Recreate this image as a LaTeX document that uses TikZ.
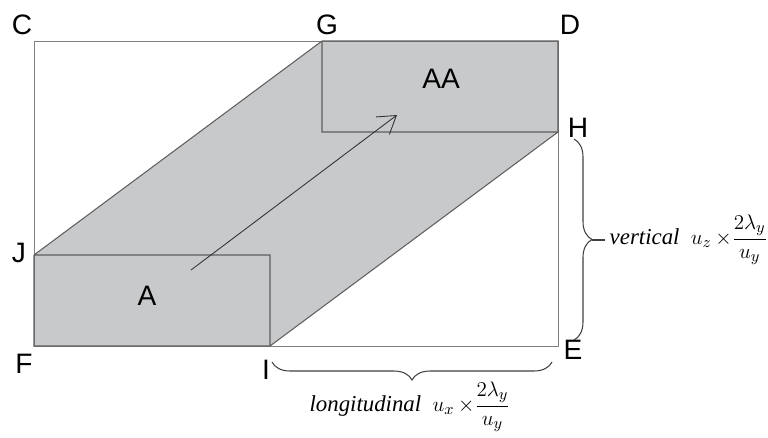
\documentclass[tikz,border=0pt]{standalone}
\usepackage{amsmath,amssymb}
\usepackage{fontspec}
\setmainfont{Liberation Serif}
\newfontfamily\labfont{Liberation Sans}
\usepackage{xcolor}
\usetikzlibrary{arrows.meta,decorations.pathreplacing}
\definecolor{boxgray}{HTML}{C8C9CB}
\definecolor{edgegray}{HTML}{5F5F5F}
\definecolor{framegray}{HTML}{808080}
\tikzset{corner/.style={font=\labfont\fontsize{16}{18}\selectfont,inner sep=0pt},
  formula/.style={font=\itshape\fontsize{13}{15}\selectfont,inner sep=2.5pt},
  bracemark/.style={decorate,decoration={brace,amplitude=0.36cm},line width=0.6pt,draw=black!75}}

\begin{document}
\begin{tikzpicture}[x=0.02cm,y=-0.02cm]
  \useasboundingbox (0,0) rectangle (768,437);
  \coordinate (c) at (34,41); \coordinate (g) at (322,41); \coordinate (d) at (558,41); \coordinate (h) at (558,132);
  \coordinate (e) at (558,346); \coordinate (i) at (270,346); \coordinate (f) at (34,346); \coordinate (j) at (34,255);
  \coordinate (atop) at (270,255); \coordinate (aabot) at (322,132);
  \fill[boxgray] (j) -- (g) -- (d) -- (h) -- (i) -- (f) -- cycle;
  \draw[framegray,line width=0.5pt] (c) rectangle (e);
  \draw[edgegray,line width=0.6pt] (j) -- (g) (i) -- (h) (j) -- (atop) -- (i) -- (f) -- (j) (g) -- (aabot) -- (h) -- (d) -- (g);
  \coordinate (flowstart) at (191,270); \coordinate (flowend) at (397,115);
  \draw[-{Straight Barb[length=3.4mm,width=4.4mm]},black!80,line width=0.5pt] (flowstart) -- (flowend);
  \node[corner] (lc) at (22,25) {C}; \node[corner] (lg) at (327,25) {G}; \node[corner] (ld) at (570,25) {D};
  \node[corner] (lh) at (578,128) {H}; \node[corner] (lj) at (19,253) {J}; \node[corner] (lf) at (24,364) {F};
  \node[corner] (li) at (266,370) {I}; \node[corner] (le) at (573,350) {E};
  \node[corner] (la) at (147,296) {A}; \node[corner] (laa) at (441,79) {AA};
  % braces and their labels
  \coordinate (vtop) at (574,139); \coordinate (vbot) at (574,340); \coordinate (vtip) at (592,240);
  \draw[bracemark] (vtop) -- (vbot);
  \node[formula,anchor=west] (vlab) at (605,240) {vertical\ \ $u_z\,{\times}\dfrac{2\lambda_y}{u_y}$};
  \draw[black!75,line width=0.6pt] (vtip) -- (vlab.west);
  \coordinate (hright) at (552,362); \coordinate (hleft) at (272,362);
  \draw[bracemark] (hright) -- (hleft);
  \node[formula] (hlab) at (410,407) {longitudinal\ \ $u_x\,{\times}\dfrac{2\lambda_y}{u_y}$};
\end{tikzpicture}
\end{document}
